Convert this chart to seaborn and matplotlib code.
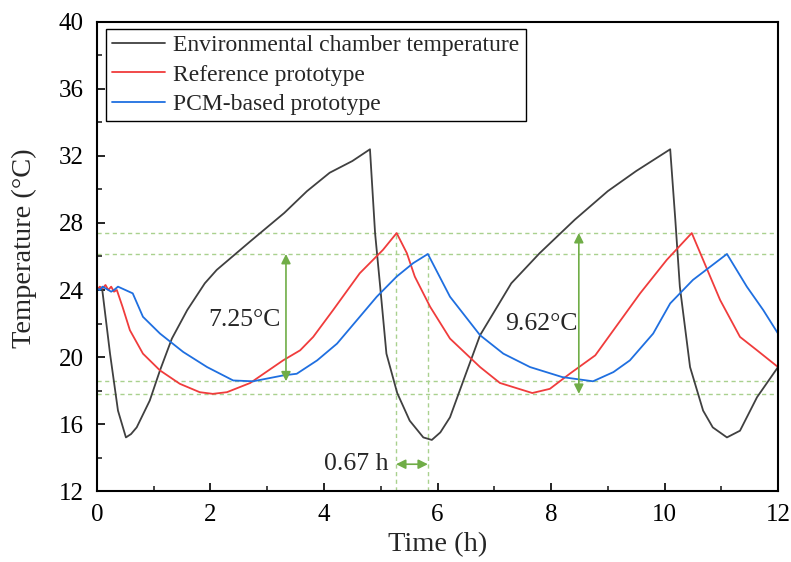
import matplotlib
matplotlib.use("Agg")
import matplotlib.pyplot as plt
import seaborn as sns
import pandas as pd
import numpy as np

# ---- data ----
t_env = [0, 0.09, 0.23, 0.37, 0.51, 0.6, 0.7, 0.93, 1.11, 1.32, 1.59, 1.9, 2.11, 2.7, 3.3,
         3.7, 4.1, 4.5, 4.81, 4.9, 4.99, 5.1, 5.29, 5.51, 5.75, 5.9, 6.05, 6.22, 6.5, 6.75,
         7.3, 7.8, 8.42, 9.0, 9.5, 10.1, 10.19, 10.27, 10.45, 10.68, 10.85, 11.1, 11.33,
         11.63, 12.0]
T_env = [24.0, 24.1, 20.2, 16.8, 15.2, 15.4, 15.8, 17.4, 19.2, 21.1, 22.8, 24.4, 25.2, 26.9, 28.6,
         29.9, 31.0, 31.7, 32.4, 27.4, 24.2, 20.2, 17.85, 16.2, 15.2, 15.05, 15.5, 16.4, 19.0, 21.3,
         24.4, 26.2, 28.2, 29.9, 31.1, 32.4, 28.2, 24.2, 19.4, 16.8, 15.8, 15.2, 15.6,
         17.6, 19.4]

t_ref = [0, 0.05, 0.1, 0.15, 0.2, 0.25, 0.3, 0.35, 0.45, 0.58, 0.81, 1.11, 1.46, 1.81, 2.04,
         2.29, 2.7, 3.28, 3.58, 3.81, 4.16, 4.63, 5.04, 5.28, 5.46, 5.6, 5.87, 6.22, 6.75, 7.1,
         7.67, 7.98, 8.33, 8.78, 9.1, 9.57, 10.04, 10.48, 10.68, 10.98, 11.33, 11.63, 12.0]
T_ref = [24.0, 24.2, 24.1, 24.3, 24.0, 24.2, 23.9, 24.0, 23.0, 21.6, 20.2, 19.2, 18.4, 17.9, 17.8,
         17.9, 18.45, 19.8, 20.4, 21.2, 22.8, 25.0, 26.4, 27.4, 26.2, 24.8, 23.0, 21.1, 19.4, 18.45,
         17.85, 18.1, 19.0, 20.1, 21.6, 23.8, 25.8, 27.4, 25.8, 23.4, 21.2, 20.4, 19.4]

t_pcm = [0, 0.05, 0.1, 0.15, 0.2, 0.25, 0.3, 0.37, 0.5, 0.63, 0.81, 1.11, 1.52, 1.94, 2.4,
         2.75, 3.28, 3.52, 3.88, 4.23, 4.58, 4.93, 5.28, 5.57, 5.83, 6.22, 6.75, 7.16, 7.63,
         8.2, 8.74, 9.1, 9.39, 9.8, 10.1, 10.5, 11.1, 11.45, 11.74, 12.0]
T_pcm = [24.1, 24.0, 24.2, 24.1, 24.0, 23.9, 24.0, 24.2, 24.0, 23.8, 22.4, 21.4, 20.3, 19.4, 18.6,
         18.55, 18.9, 19.0, 19.8, 20.8, 22.2, 23.6, 24.8, 25.6, 26.15, 23.6, 21.3, 20.2, 19.4,
         18.8, 18.55, 19.1, 19.8, 21.4, 23.2, 24.6, 26.15, 24.2, 22.8, 21.4]

series_names = ["Environmental chamber temperature", "Reference prototype", "PCM-based prototype"]
series_colors = ["#404040", "#f03c3c", "#1f6fe0"]

ref_lines = [27.4, 26.15, 18.55, 17.8]       # horizontal dashed guides
peak_times = [5.27, 5.83]                    # vertical dashed guides
peak_vals = [27.4, 26.15]
amp_labels = ["7.25°C", "9.62°C", "0.67 h"]

# ---- plot ----
sns.set_theme(style="ticks")
plt.rcParams["font.family"] = ["Liberation Serif", "DejaVu Serif"]

df = pd.concat([
    pd.DataFrame({"t": t_env, "T": T_env, "s": series_names[0]}),
    pd.DataFrame({"t": t_ref, "T": T_ref, "s": series_names[1]}),
    pd.DataFrame({"t": t_pcm, "T": T_pcm, "s": series_names[2]}),
])

fig = plt.figure(figsize=(7.91, 5.62), dpi=100)
ax = fig.add_axes([0.1226, 0.1263, 0.8610, 0.8346])

sns.lineplot(data=df, x="t", y="T", hue="s", palette=series_colors, hue_order=series_names,
             sort=False, estimator=None, lw=1.3, ax=ax)

green_l = "#a9d18e"
green = "#70ad47"
for y in ref_lines:
    ax.axhline(y, color=green_l, ls=(0, (3, 2.5)), lw=1.0, zorder=0)
for x, v in zip(peak_times, peak_vals):
    ax.plot([x, x], [12, v], color=green_l, ls=(0, (3, 2.5)), lw=1.0, zorder=0)

arrow_kw = dict(arrowstyle="<|-|>", color=green, lw=1.2, mutation_scale=14, shrinkA=0, shrinkB=0)
ax.annotate("", xy=(3.33, ref_lines[1]), xytext=(3.33, ref_lines[2]), arrowprops=arrow_kw)
ax.annotate("", xy=(8.49, ref_lines[0]), xytext=(8.49, ref_lines[3]), arrowprops=arrow_kw)
ax.annotate("", xy=(peak_times[0], 13.6), xytext=(peak_times[1], 13.6), arrowprops=arrow_kw)

ax.text(2.6, 22.2, amp_labels[0], fontsize=18.5, ha="center", va="center")
ax.text(7.83, 22.0, amp_labels[1], fontsize=18.5, ha="center", va="center")
ax.text(5.13, 13.6, amp_labels[2], fontsize=18.5, ha="right", va="center")

ax.set_xlim(0, 12)
ax.set_ylim(12, 40)
ax.set_xticks(np.arange(0, 13, 2))
ax.set_xticks(np.arange(0, 13, 1), minor=True)
ax.set_yticks(np.arange(12, 41, 4))
ax.set_yticks(np.arange(12, 41, 2), minor=True)
ax.tick_params(axis="both", which="major", direction="in", length=6, width=1.2,
               labelsize=18, colors="black", pad=9.5)
ax.tick_params(axis="both", which="minor", direction="in", length=3.5, width=1.2)
for sp in ax.spines.values():
    sp.set_visible(True)
    sp.set_linewidth(1.5)
    sp.set_color("black")

ax.set_xlabel("Time (h)", fontsize=20.5)
ax.set_ylabel("Temperature (°C)", fontsize=20.5)
ax.xaxis.set_label_coords(0.5, -0.0885)
ax.yaxis.set_label_coords(-0.088, 0.518)

leg = ax.legend(loc="upper left", bbox_to_anchor=(0.013, 0.986), fontsize=17, frameon=True,
                fancybox=False, edgecolor="black", framealpha=1, borderaxespad=0,
                handlelength=2.25, labelspacing=0.33, borderpad=0.27, handletextpad=0.32)
leg.get_frame().set_linewidth(1.0)
for line in leg.get_lines():
    line.set_linewidth(1.3)

fig.savefig("out.png", dpi=100)
